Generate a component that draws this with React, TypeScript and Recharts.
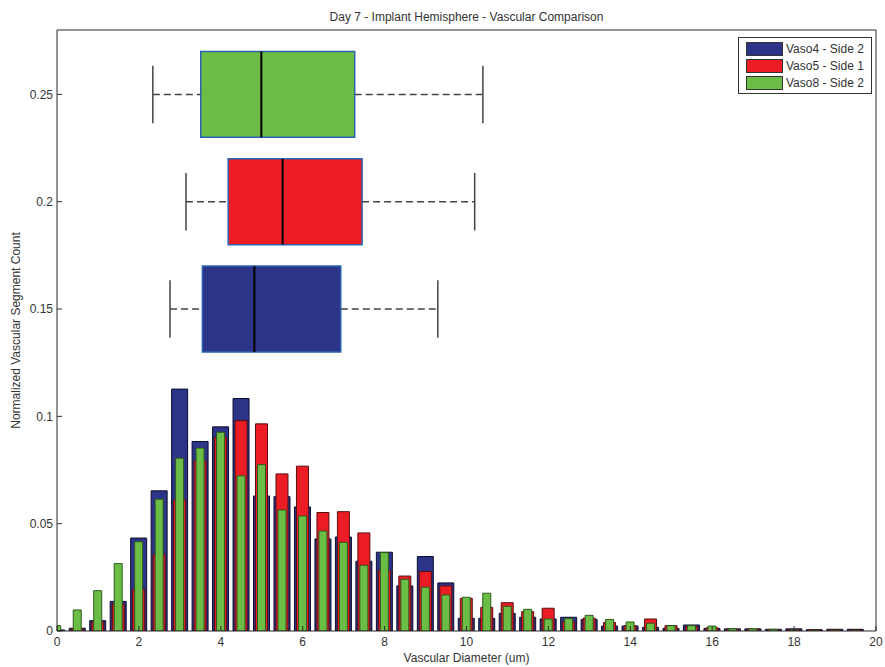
import React from 'react';
import { ComposedChart, Bar, XAxis, YAxis, ReferenceArea, ReferenceLine, Legend } from 'recharts';

const bins = [0, 0.5, 1, 1.5, 2, 2.5, 3, 3.5, 4, 4.5, 5, 5.5, 6, 6.5, 7, 7.5, 8, 8.5, 9, 9.5, 10, 10.5, 11, 11.5, 12, 12.5, 13, 13.5, 14, 14.5, 15, 15.5, 16, 16.5, 17, 17.5, 18, 18.5, 19, 19.5];
const vaso4 = [0.0005, 0.0013, 0.0048, 0.0138, 0.0433, 0.0653, 0.1127, 0.0883, 0.0951, 0.1083, 0.0629, 0.0626, 0.0578, 0.0429, 0.0438, 0.0325, 0.0367, 0.021, 0.0347, 0.0224, 0.0059, 0.0059, 0.0082, 0.0064, 0.0056, 0.0064, 0.0054, 0.0023, 0.0023, 0.0017, 0.0012, 0.0028, 0.0012, 0.001, 0.001, 0.0008, 0.001, 0.0006, 0.0008, 0.0008];
const vaso5 = [0, 0.001, 0.0042, 0.0126, 0.0194, 0.0357, 0.0611, 0.0793, 0.0903, 0.098, 0.0965, 0.0732, 0.0768, 0.0552, 0.0556, 0.0457, 0.0283, 0.0256, 0.0277, 0.021, 0.0152, 0.011, 0.0132, 0.009, 0.0106, 0.0045, 0.006, 0.004, 0.0025, 0.0056, 0.0025, 0.002, 0.0015, 0.0008, 0.0008, 0.0006, 0.0006, 0.0005, 0.0005, 0.0005];
const vaso8 = [0.0025, 0.0098, 0.0188, 0.0314, 0.0416, 0.0614, 0.0805, 0.0852, 0.0926, 0.0723, 0.0775, 0.0564, 0.0536, 0.0466, 0.0413, 0.0306, 0.0365, 0.0241, 0.0204, 0.0168, 0.0157, 0.0176, 0.0115, 0.0101, 0.0056, 0.0058, 0.0073, 0.0054, 0.0042, 0.0036, 0.0025, 0.0025, 0.0023, 0.001, 0.001, 0.0008, 0.0004, 0.0003, 0.0003, 0.0003];

const xTicks = [0, 2, 4, 6, 8, 10, 12, 14, 16, 18, 20];
const yTicks = [0, 0.05, 0.1, 0.15, 0.2, 0.25];

const seriesNames = ['Vaso4 - Side 2', 'Vaso5 - Side 1', 'Vaso8 - Side 2'];
const seriesFill = ['#2b3486', '#ec1c24', '#6cbd45'];
const seriesStroke = ['#0c0c2e', '#5a0f10', '#2e5a1e'];

// box plot statistics (order: Vaso4, Vaso5, Vaso8)
const boxLevels = [0.15, 0.2, 0.25];
const whiskerLow = [2.76, 3.15, 2.34];
const quart1 = [3.55, 4.18, 3.51];
const medians = [4.82, 5.51, 4.99];
const quart3 = [6.93, 7.45, 7.27];
const whiskerHigh = [9.3, 10.2, 10.4];

const title = 'Day 7 - Implant Hemisphere - Vascular Comparison';
const xLabel = 'Vascular Diameter (um)';
const yLabel = 'Normalized Vascular Segment Count';

const data = bins.map((b, i) => ({ x: b, v4: vaso4[i], v5: vaso5[i], v8: vaso8[i] }));

const FONT = '"Liberation Sans", Arial, sans-serif';
const AX = '#2b2b2b';
const TXT = '#333';
const BOX_H = 0.02;
const CAP_H = 0.0134;

const LegendBox = () => (
  <div
    style={{
      border: '1px solid #333',
      background: '#fff',
      padding: '2px 4px 2px 7px',
      fontFamily: FONT,
      fontSize: 12,
      color: TXT,
      boxSizing: 'border-box',
      width: 134,
    }}
  >
    {seriesNames.map((n, i) => (
      <div key={n} style={{ display: 'flex', alignItems: 'center', height: 17, whiteSpace: 'nowrap' }}>
        <div style={{ width: 35, height: 12, background: seriesFill[i], border: '1px solid #333', marginRight: 3, flex: 'none' }} />
        <span>{n}</span>
      </div>
    ))}
  </div>
);

export default function App() {
  const boxes = boxLevels.map((lvl, i) => ({ lvl, i }));
  return (
    <div style={{ position: 'absolute', left: 0, top: 0 }}>
      <ComposedChart
        width={885}
        height={667}
        data={data}
        margin={{ top: 29, right: 8, bottom: 6, left: 10 }}
        style={{ fontFamily: FONT, background: '#fff' }}
      >
        <XAxis
          xAxisId="a"
          dataKey="x"
          type="number"
          domain={[0, 20]}
          ticks={xTicks}
          allowDataOverflow
          height={30}
          tickSize={-5}
          tickMargin={11}
          stroke={AX}
          tick={{ fill: TXT, fontSize: 12 }}
          label={{ value: xLabel, position: 'insideBottom', offset: -1, fill: TXT, fontSize: 12 }}
        />
        <XAxis xAxisId="b" dataKey="x" type="number" domain={[0, 20]} allowDataOverflow hide />
        <XAxis xAxisId="c" dataKey="x" type="number" domain={[0, 20]} allowDataOverflow hide />
        <XAxis
          xAxisId="top"
          orientation="top"
          dataKey="x"
          type="number"
          domain={[0, 20]}
          ticks={xTicks}
          allowDataOverflow
          height={1}
          tickSize={-5}
          tick={false}
          stroke={AX}
          label={{ value: title, position: 'top', offset: 8, fill: TXT, fontSize: 12 }}
        />
        <YAxis
          yAxisId="l"
          type="number"
          domain={[0, 0.28]}
          ticks={yTicks}
          allowDataOverflow
          width={47}
          tickSize={-5}
          tickMargin={9}
          stroke={AX}
          tick={{ fill: TXT, fontSize: 12 }}
          label={{ value: yLabel, angle: -90, position: 'insideLeft', offset: 6, fill: TXT, fontSize: 12, style: { textAnchor: 'middle' } }}
        />
        <YAxis
          yAxisId="r"
          orientation="right"
          type="number"
          domain={[0, 0.28]}
          ticks={yTicks}
          allowDataOverflow
          width={1}
          tickSize={-5}
          tick={false}
          stroke={AX}
        />
        <Legend
          layout="horizontal"
          verticalAlign="middle"
          align="center"
          content={() => <LegendBox />}
          wrapperStyle={{ position: 'absolute', left: 738, top: 37, width: 134, height: 56 }}
        />
        <Bar xAxisId="a" yAxisId="l" dataKey="v4" name={seriesNames[0]} barSize={16} fill={seriesFill[0]} stroke={seriesStroke[0]} strokeWidth={1} isAnimationActive={false} />
        <Bar xAxisId="b" yAxisId="l" dataKey="v5" name={seriesNames[1]} barSize={12} fill={seriesFill[1]} stroke={seriesStroke[1]} strokeWidth={1} isAnimationActive={false} />
        <Bar xAxisId="c" yAxisId="l" dataKey="v8" name={seriesNames[2]} barSize={8} fill={seriesFill[2]} stroke={seriesStroke[2]} strokeWidth={1} isAnimationActive={false} />
        {boxes.map(({ lvl, i }) => (
          <ReferenceArea
            key={'box' + i}
            xAxisId="a"
            yAxisId="l"
            x1={quart1[i]}
            x2={quart3[i]}
            y1={lvl - BOX_H}
            y2={lvl + BOX_H}
            fill={seriesFill[i]}
            fillOpacity={1}
            stroke="#2a64b0"
            strokeWidth={1.5}
            ifOverflow="visible"
          />
        ))}
        {boxes.map(({ lvl, i }) => (
          <ReferenceLine
            key={'med' + i}
            xAxisId="a"
            yAxisId="l"
            segment={[{ x: medians[i], y: lvl - BOX_H }, { x: medians[i], y: lvl + BOX_H }]}
            stroke="#000"
            strokeWidth={2}
            ifOverflow="visible"
          />
        ))}
        {boxes.map(({ lvl, i }) => (
          <ReferenceLine
            key={'wl' + i}
            xAxisId="a"
            yAxisId="l"
            segment={[{ x: whiskerLow[i], y: lvl }, { x: quart1[i], y: lvl }]}
            stroke="#444"
            strokeWidth={1.5}
            strokeDasharray="7 4"
            ifOverflow="visible"
          />
        ))}
        {boxes.map(({ lvl, i }) => (
          <ReferenceLine
            key={'wh' + i}
            xAxisId="a"
            yAxisId="l"
            segment={[{ x: quart3[i], y: lvl }, { x: whiskerHigh[i], y: lvl }]}
            stroke="#444"
            strokeWidth={1.5}
            strokeDasharray="7 4"
            ifOverflow="visible"
          />
        ))}
        {boxes.map(({ lvl, i }) => (
          <ReferenceLine
            key={'cl' + i}
            xAxisId="a"
            yAxisId="l"
            segment={[{ x: whiskerLow[i], y: lvl - CAP_H }, { x: whiskerLow[i], y: lvl + CAP_H }]}
            stroke="#444"
            strokeWidth={1.5}
            ifOverflow="visible"
          />
        ))}
        {boxes.map(({ lvl, i }) => (
          <ReferenceLine
            key={'ch' + i}
            xAxisId="a"
            yAxisId="l"
            segment={[{ x: whiskerHigh[i], y: lvl - CAP_H }, { x: whiskerHigh[i], y: lvl + CAP_H }]}
            stroke="#444"
            strokeWidth={1.5}
            ifOverflow="visible"
          />
        ))}
      </ComposedChart>
    </div>
  );
}
